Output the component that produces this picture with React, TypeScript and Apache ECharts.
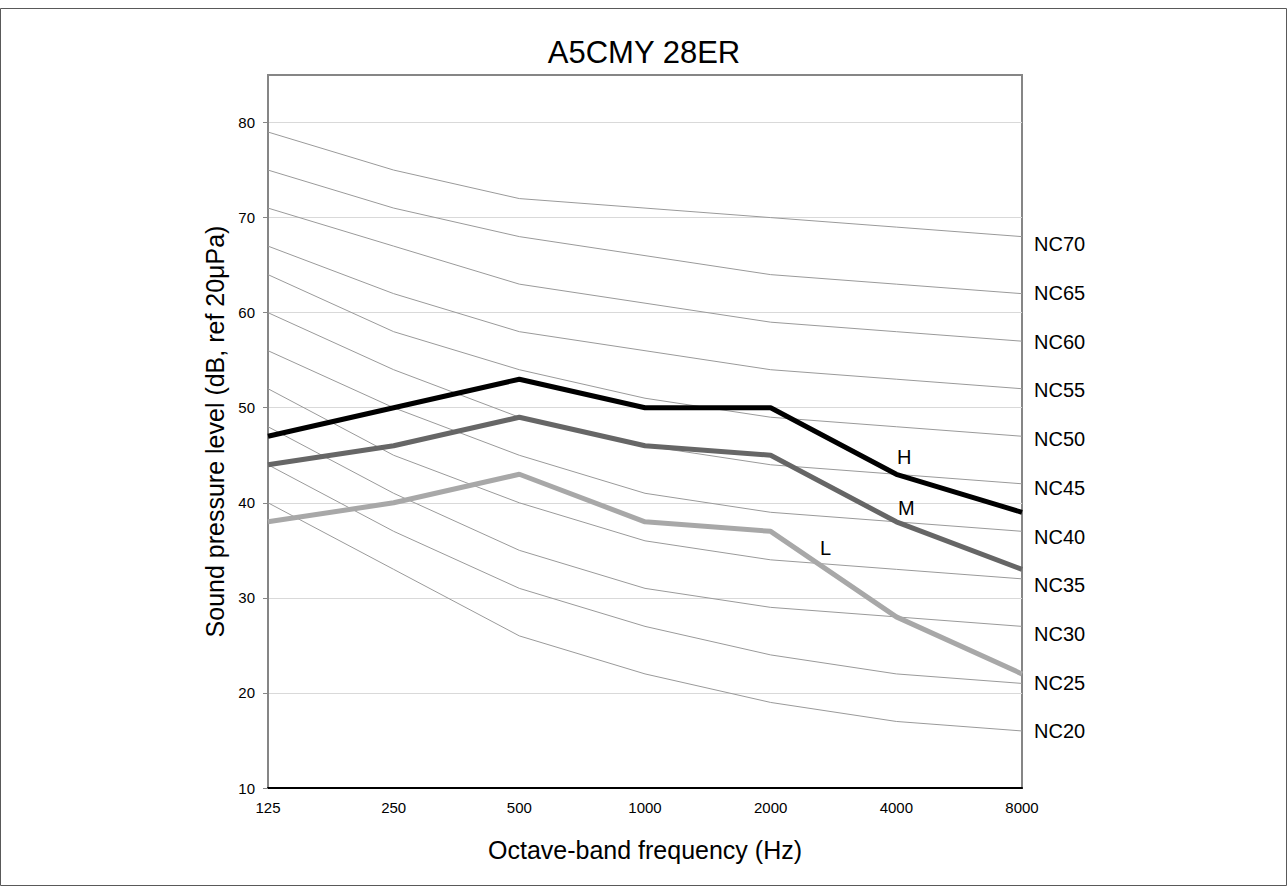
import React, { useEffect, useRef } from "react";
import * as echarts from "echarts";

const freqs = ["125", "250", "500", "1000", "2000", "4000", "8000"];
const yTicks = [10, 20, 30, 40, 50, 60, 70, 80];
const ncLevels = [70, 65, 60, 55, 50, 45, 40, 35, 30, 25, 20];

const nc70 = [79, 75, 72, 71, 70, 69, 68];
const nc65 = [75, 71, 68, 66, 64, 63, 62];
const nc60 = [71, 67, 63, 61, 59, 58, 57];
const nc55 = [67, 62, 58, 56, 54, 53, 52];
const nc50 = [64, 58, 54, 51, 49, 48, 47];
const nc45 = [60, 54, 49, 46, 44, 43, 42];
const nc40 = [56, 50, 45, 41, 39, 38, 37];
const nc35 = [52, 45, 40, 36, 34, 33, 32];
const nc30 = [48, 41, 35, 31, 29, 28, 27];
const nc25 = [44, 37, 31, 27, 24, 22, 21];
const nc20 = [40, 33, 26, 22, 19, 17, 16];
const ncCurves = [nc70, nc65, nc60, nc55, nc50, nc45, nc40, nc35, nc30, nc25, nc20];

const seriesH = [47, 50, 53, 50, 50, 43, 39];
const seriesM = [44, 46, 49, 46, 45, 38, 33];
const seriesL = [38, 40, 43, 38, 37, 28, 22];

const FONT = "'Liberation Sans', Arial, sans-serif";

function withLabel(values: number[], idx: number, text: string, offset: number[]) {
  return values.map((v, i) =>
    i === idx
      ? {
          value: v,
          label: {
            show: true,
            position: "inside",
            formatter: text,
            offset,
            fontSize: 20,
            color: "#000",
            fontFamily: FONT,
          },
        }
      : v
  );
}

export default function App() {
  const ref = useRef<HTMLDivElement>(null);
  useEffect(() => {
    if (!ref.current) return;
    const chart = echarts.init(ref.current, null, { renderer: "svg" });
    const ncSeries = ncCurves.map((d, k) => ({
      name: "NC" + ncLevels[k],
      type: "line",
      data: d,
      symbol: "none",
      silent: true,
      z: 2,
      lineStyle: { color: "#9a9a9a", width: 1 },
    }));
    const main = [
      { name: "H", data: withLabel(seriesH, 5, "H", [8, -17]), color: "#000000" },
      { name: "M", data: withLabel(seriesM, 5, "M", [10, -14]), color: "#666666" },
      { name: "L", data: withLabel(seriesL, 4, "L", [55, 17]), color: "#a8a8a8" },
    ].map((s) => ({
      name: s.name,
      type: "line",
      data: s.data,
      symbol: "circle",
      symbolSize: 0,
      showSymbol: true,
      z: 5,
      itemStyle: { color: s.color },
      lineStyle: { color: s.color, width: 5 },
    }));
    chart.setOption({
      animation: false,
      textStyle: { fontFamily: FONT },
      title: {
        text: "A5CMY 28ER",
        left: "center",
        top: 32,
        textStyle: { fontSize: 31, fontWeight: "normal", color: "#000", fontFamily: FONT },
      },
      graphic: [
        {
          type: "rect",
          shape: { x: 0.5, y: 8.5, width: 1286, height: 877 },
          style: { fill: "none", stroke: "#595959", lineWidth: 1 },
          silent: true,
        },
      ],
      grid: {
        left: 268,
        right: 266,
        top: 75,
        bottom: 99,
        show: true,
        borderColor: "#868686",
        borderWidth: 2,
        backgroundColor: "transparent",
      },
      xAxis: {
        type: "category",
        data: freqs,
        boundaryGap: false,
        name: "Octave-band frequency (Hz)",
        nameLocation: "middle",
        nameGap: 49,
        nameTextStyle: { fontSize: 25, color: "#000", fontFamily: FONT },
        axisLine: { show: true, lineStyle: { color: "#000", width: 2 } },
        axisTick: { show: false },
        axisLabel: { fontSize: 15, color: "#000", margin: 12, fontFamily: FONT },
        splitLine: { show: false },
      },
      yAxis: [
        {
          type: "value",
          min: 10,
          max: 85,
          interval: 10,
          name: "Sound pressure level (dB, ref 20μPa)",
          nameLocation: "middle",
          nameGap: 36,
          nameRotate: 90,
          nameTextStyle: { fontSize: 25, color: "#000", fontFamily: FONT },
          axisLine: { show: true, lineStyle: { color: "#868686", width: 2 } },
          axisTick: {
            show: true,
            length: 5,
            customValues: yTicks,
            lineStyle: { color: "#868686", width: 1 },
          },
          axisLabel: {
            customValues: yTicks,
            fontSize: 15,
            color: "#000",
            margin: 13,
            fontFamily: FONT,
          },
          splitLine: { show: true, lineStyle: { color: "#d9d9d9", width: 1 } },
        },
        {
          type: "value",
          position: "right",
          min: 14.2,
          max: 87.35,
          axisLine: { show: false },
          axisTick: { show: false },
          splitLine: { show: false },
          axisLabel: {
            customValues: ncLevels,
            formatter: (v: number) => "NC" + v,
            fontSize: 20,
            color: "#000",
            margin: 12,
            fontFamily: FONT,
          },
        },
      ],
      series: [...ncSeries, ...main],
    });
    return () => chart.dispose();
  }, []);
  return (
    <div
      ref={ref}
      style={{ position: "fixed", left: 0, top: 0, width: 1288, height: 887, background: "#fff" }}
    />
  );
}
